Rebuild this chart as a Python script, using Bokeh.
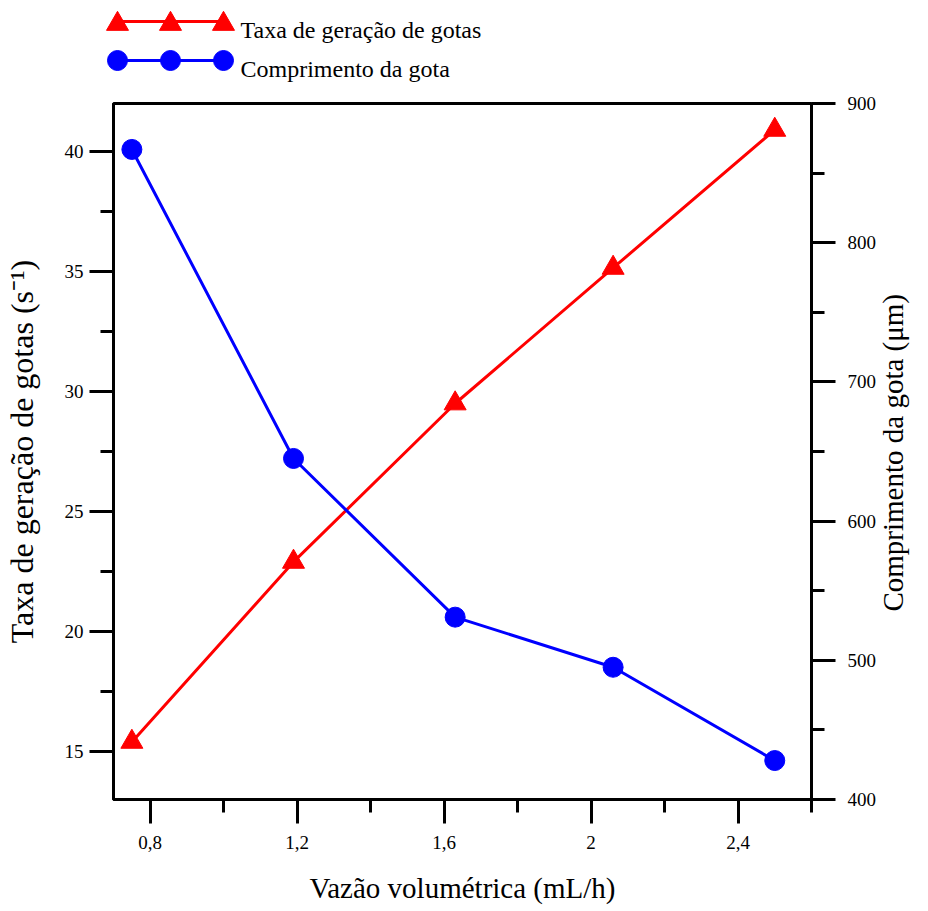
import math
from bokeh.plotting import figure
from bokeh.models import Range1d, LinearAxis, FixedTicker
from bokeh.embed import file_html
from bokeh.resources import INLINE
from bokeh.core.properties import value

# ---- data ----
flow = [0.75, 1.19, 1.63, 2.06, 2.5]
rate = [15.4, 22.9, 29.5, 35.15, 40.9]
drop_length = [867, 645, 531, 495, 428]

x_ticks = [0.8, 1.2, 1.6, 2.0, 2.4]
x_tick_labels = ["0,8", "1,2", "1,6", "2", "2,4"]
x_minor = [1.0, 1.4, 1.8, 2.2, 2.6]
left_ticks = [15, 20, 25, 30, 35, 40]
left_minor = [17.5, 22.5, 27.5, 32.5, 37.5]
right_ticks = [400, 500, 600, 700, 800, 900]
right_minor = [450, 550, 650, 750, 850]

series_names = ["Taxa de geração de gotas", "Comprimento da gota"]
x_label = "Vazão volumétrica (mL/h)"
left_label = "Taxa de geração de gotas (s⁻¹)"
right_label = "Comprimento da gota (μm)"

FONT = "Liberation Serif"
RED = "#FF0000"
BLUE = "#0000FF"
W = 928

# ---- legend strip (separate root, pixel coordinates) ----
leg = figure(width=W, height=88, x_range=Range1d(0, W), y_range=Range1d(88, 0),
             output_backend="svg", toolbar_location=None, min_border=0,
             x_axis_location=None, y_axis_location=None)
leg.grid.visible = False
leg.outline_line_color = None
key_x = [117, 170, 223]
line_y = [21, 60]
tri_y = 23.5
text_y = [29, 68]
leg.line(key_x, [line_y[0]] * 3, color=RED, line_width=3)
leg.scatter(key_x, [tri_y] * 3, marker="triangle", size=22, color=RED)
leg.line(key_x, [line_y[1]] * 3, color=BLUE, line_width=3)
leg.scatter(key_x, [line_y[1]] * 3, marker="circle", size=20, color=BLUE)
leg.text(x=[240, 240], y=text_y, text=series_names,
         text_font=value(FONT), text_font_size="24px", text_baseline="alphabetic",
         text_color="black")

# ---- main plot ----
p = figure(width=W, height=823, x_range=Range1d(0.7, 2.6), y_range=Range1d(13, 42),
           output_backend="svg", toolbar_location=None,
           min_border_left=113, min_border_right=117, min_border_top=15, min_border_bottom=112)
p.grid.visible = False
p.outline_line_color = "black"
p.outline_line_width = 3
p.extra_y_ranges = {"right": Range1d(400, 900)}

right_axis = LinearAxis(y_range_name="right")
p.add_layout(right_axis, "right")

p.xaxis.ticker = FixedTicker(ticks=x_ticks, minor_ticks=x_minor)
p.xaxis.major_label_overrides = dict(zip(x_ticks, x_tick_labels))
p.yaxis[0].ticker = FixedTicker(ticks=left_ticks, minor_ticks=left_minor)
right_axis.ticker = FixedTicker(ticks=right_ticks, minor_ticks=right_minor)

for ax in p.axis:
    ax.axis_line_width = 3
    ax.axis_line_color = "black"
    ax.major_tick_line_width = 3
    ax.minor_tick_line_width = 3
    ax.major_tick_line_color = "black"
    ax.minor_tick_line_color = "black"
    ax.major_tick_out = 24
    ax.major_tick_in = 0
    ax.minor_tick_out = 13
    ax.minor_tick_in = 0
    ax.major_label_text_font = FONT
    ax.major_label_text_font_size = "19px"
    ax.major_label_text_color = "black"
    ax.axis_label_text_font = FONT
    ax.axis_label_text_font_style = "normal"
    ax.axis_label_text_color = "black"

p.xaxis.axis_label = x_label
p.xaxis.axis_label_text_font_size = "29px"
p.xaxis.major_label_standoff = 12
p.xaxis.axis_label_standoff = 20

p.yaxis[0].axis_label = left_label
p.yaxis[0].axis_label_text_font_size = "32px"
p.yaxis[0].major_label_standoff = 6
p.yaxis[0].axis_label_standoff = 22

right_axis.major_label_standoff = 12

# right-hand title (reads bottom-to-top), carried by a bare outer axis
title_start = 535  # right-scale value where the title text begins
title_axis = LinearAxis(y_range_name="right",
                        ticker=FixedTicker(ticks=[title_start], minor_ticks=[]),
                        major_label_overrides={title_start: right_label},
                        major_label_orientation=math.pi / 2,
                        axis_line_color=None, major_tick_line_color=None,
                        minor_tick_line_color=None,
                        major_tick_out=0, major_tick_in=0, minor_tick_out=0, minor_tick_in=0,
                        major_label_standoff=14,
                        major_label_text_font=FONT, major_label_text_font_size="29px",
                        major_label_text_color="black")
p.add_layout(title_axis, "right")

p.line(flow, rate, color=RED, line_width=3)
p.scatter(flow, rate, marker="triangle", size=22, color=RED)
p.line(flow, drop_length, color=BLUE, line_width=3, y_range_name="right")
p.scatter(flow, drop_length, marker="circle", size=20, color=BLUE, y_range_name="right")

open("out.html", "w").write(file_html([leg, p], INLINE))
